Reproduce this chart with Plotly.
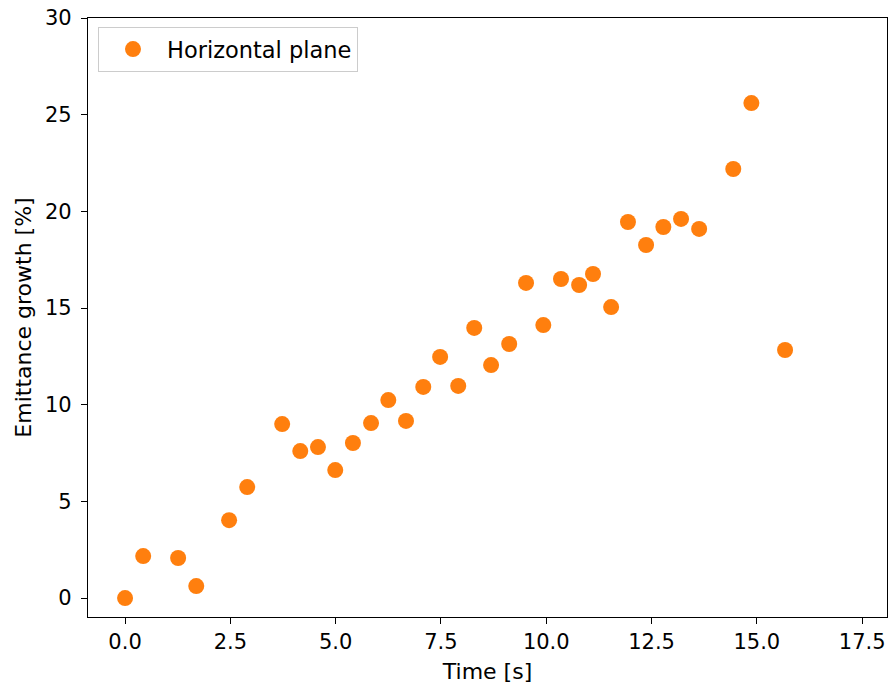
import plotly.graph_objects as go

time_s = [0.0, 0.43, 1.26, 1.69, 2.47, 2.90, 3.73, 4.16, 4.58, 4.99, 5.41, 5.84,
          6.25, 6.67, 7.08, 7.48, 7.91, 8.29, 8.69, 9.12, 9.52, 9.93, 10.35, 10.78,
          11.11, 11.54, 11.94, 12.37, 12.78, 13.20, 13.63, 14.44, 14.87, 15.67]
growth_pct = [0.0, 2.17, 2.07, 0.62, 4.03, 5.74, 9.0, 7.6, 7.81, 6.62, 8.02, 9.05,
              10.24, 9.16, 10.92, 12.47, 10.97, 13.97, 12.05, 13.14, 16.30, 14.12, 16.50, 16.19,
              16.76, 15.05, 19.45, 18.26, 19.19, 19.61, 19.09, 22.19, 25.6, 12.83]
series_name = "Horizontal plane"
x_ticks = [0.0, 2.5, 5.0, 7.5, 10.0, 12.5, 15.0, 17.5]
y_ticks = [0, 5, 10, 15, 20, 25, 30]

tick_font = dict(family="DejaVu Sans", size=21, color="black")
title_font = dict(family="DejaVu Sans", size=22, color="black")
legend_font = dict(family="DejaVu Sans", size=22.5, color="black")

fig = go.Figure()
fig.add_trace(go.Scatter(
    x=time_s, y=growth_pct, mode="markers", name=series_name,
    marker=dict(color="#ff7f0e", size=16, line=dict(width=0)),
    showlegend=True,
))

fig.update_layout(
    width=889, height=686,
    paper_bgcolor="white", plot_bgcolor="white",
    margin=dict(l=88, r=2, t=18, b=69),
    font=tick_font,
    showlegend=True,
    legend=dict(
        x=0.0125, y=0.985, xanchor="left", yanchor="top",
        bgcolor="rgba(255,255,255,0.8)", bordercolor="#cccccc", borderwidth=1,
        font=legend_font, itemwidth=58,
    ),
    xaxis=dict(
        range=[-0.88, 18.09], tickvals=x_ticks, ticktext=[f"{v:.1f}" for v in x_ticks],
        showgrid=False, zeroline=False, showline=True, linecolor="black", linewidth=1.3,
        mirror=True, ticks="outside", ticklen=6, tickcolor="black", tickwidth=1.3,
        automargin=False, tickfont=tick_font,
        title=dict(text="Time [s]", font=title_font, standoff=10),
    ),
    yaxis=dict(
        range=[-0.98, 30], tickvals=y_ticks,
        showgrid=False, zeroline=False, showline=True, linecolor="black", linewidth=1.3,
        mirror=True, ticks="outside", ticklen=6, tickcolor="black", tickwidth=1.3,
        automargin=False, ticklabelstandoff=5, tickfont=tick_font,
        title=dict(text="Emittance growth [%]", font=title_font, standoff=7),
    ),
)

fig.write_html("out.html", config={"displayModeBar": False},
               post_script="document.body.style.margin='0';")
